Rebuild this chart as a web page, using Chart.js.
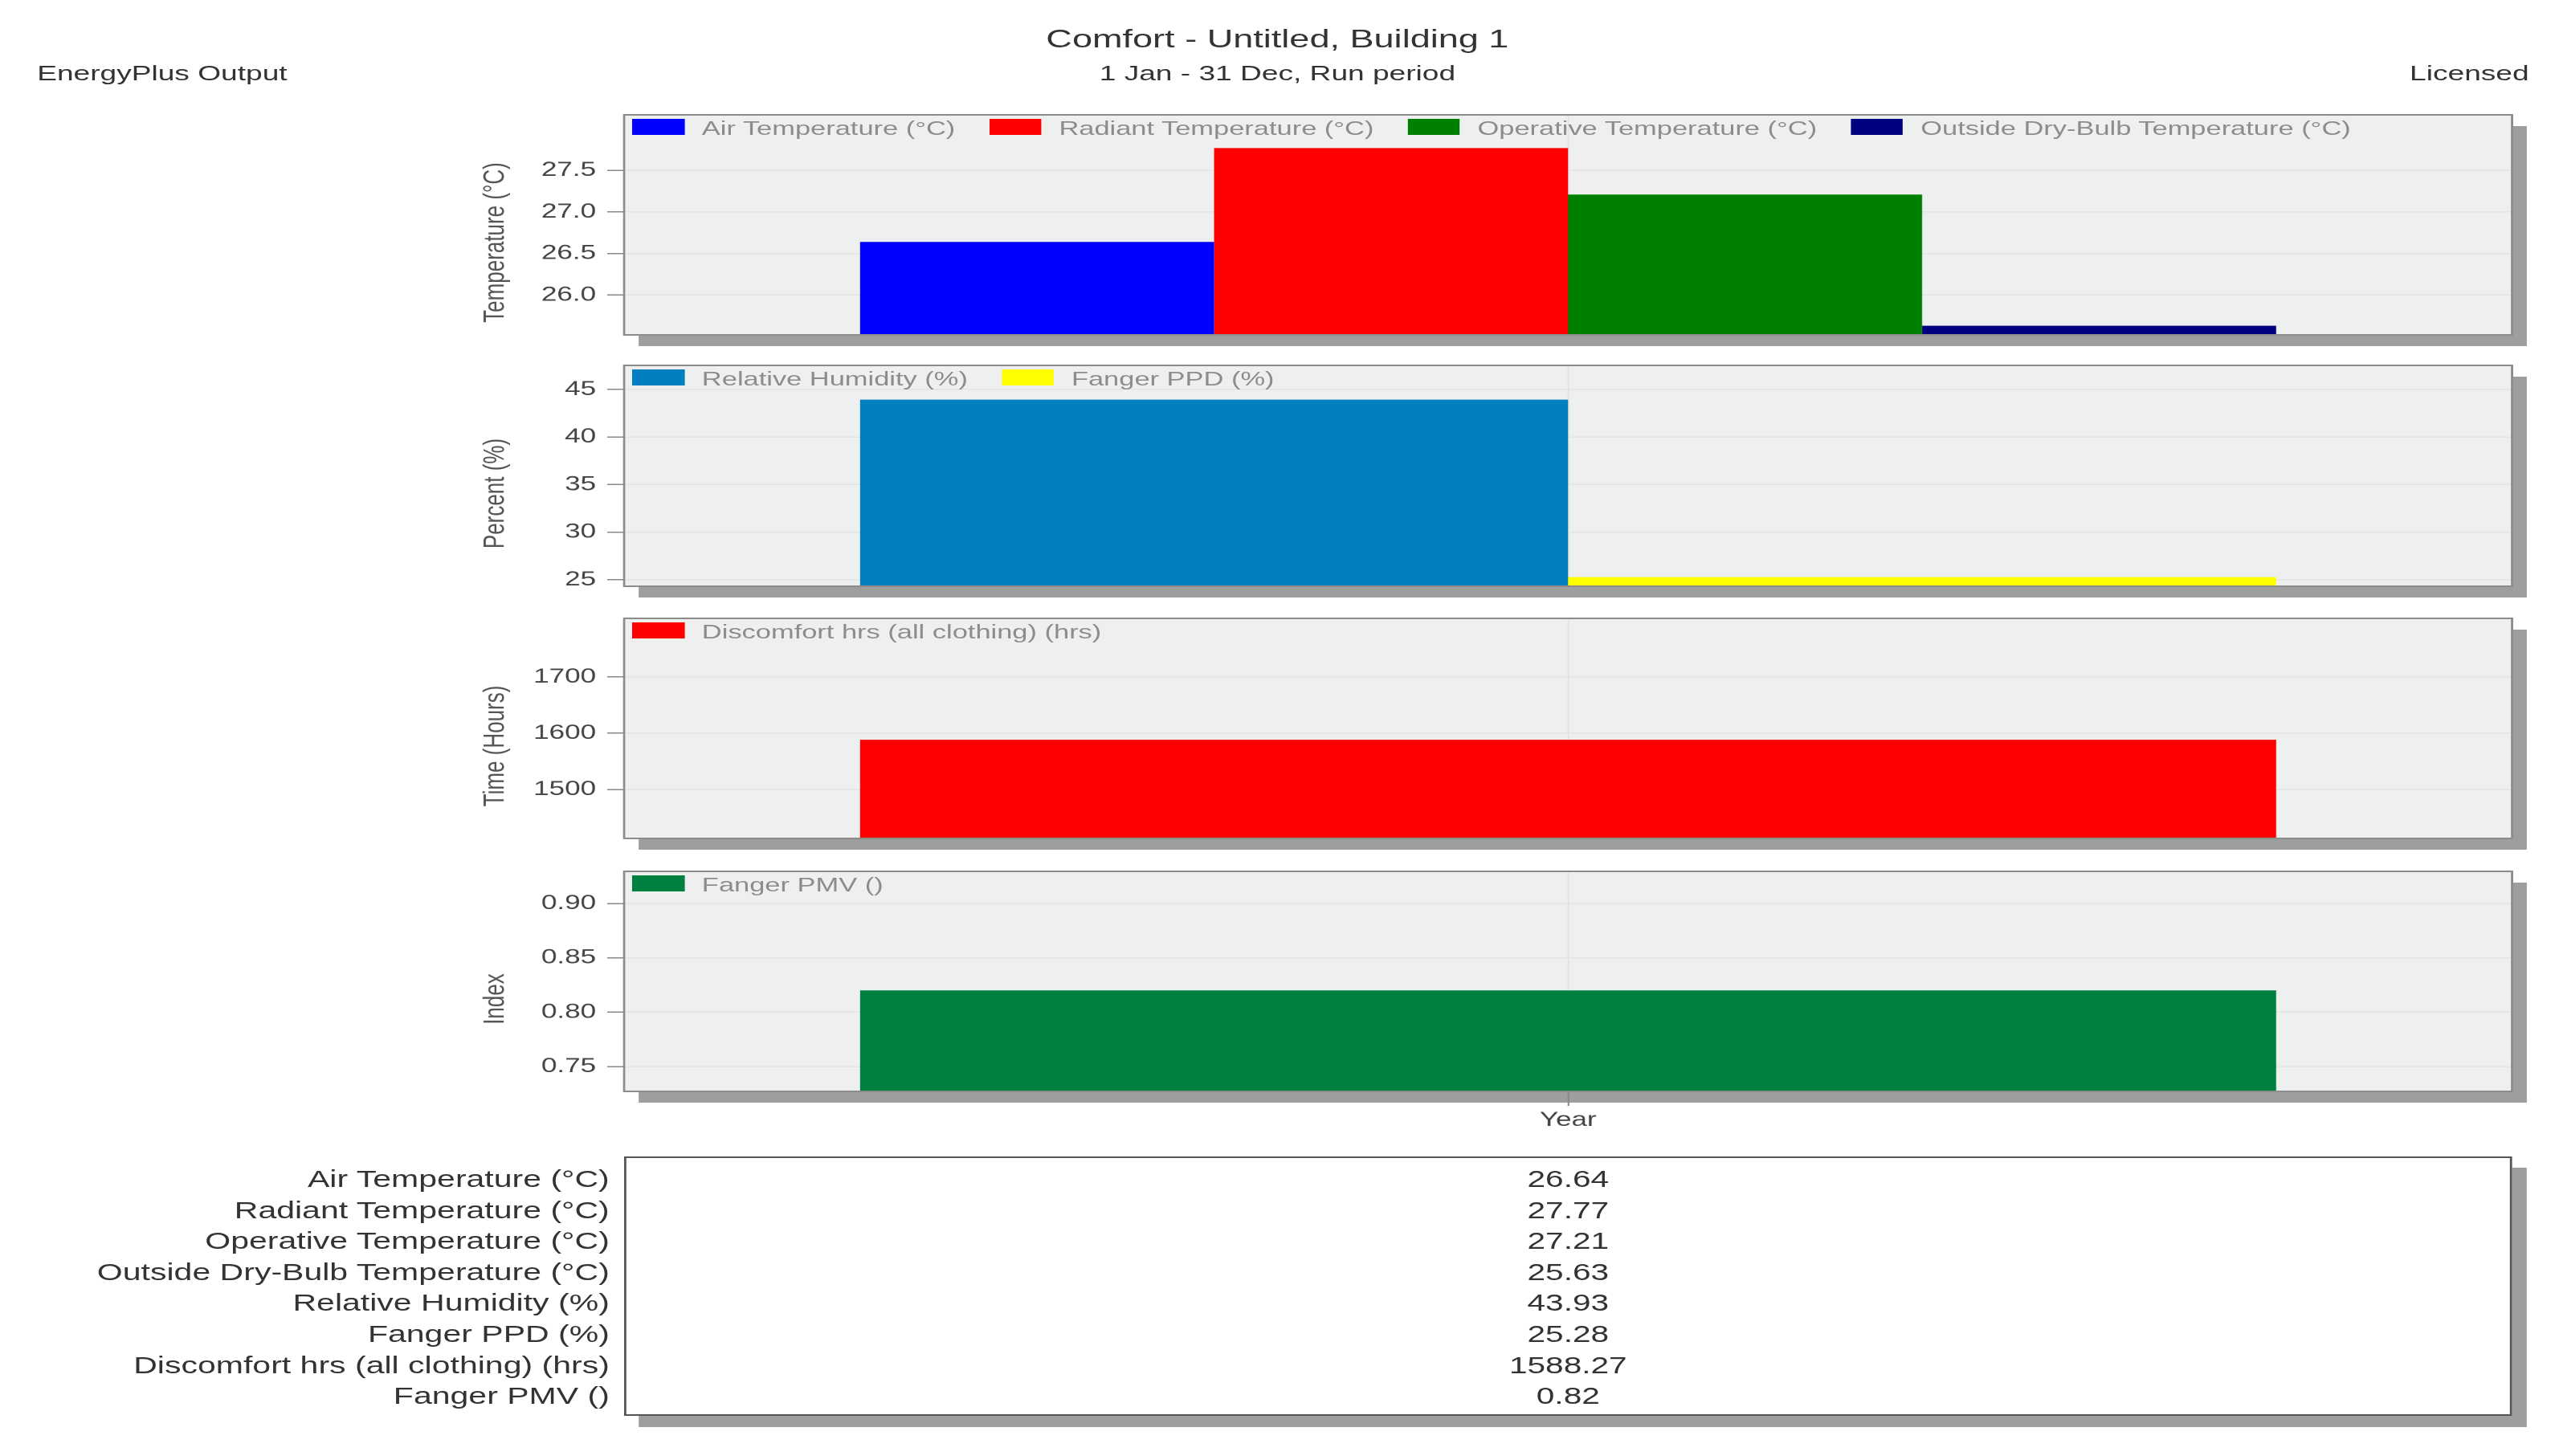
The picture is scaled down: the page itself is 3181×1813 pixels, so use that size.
<!DOCTYPE html>
<html>
<head>
<meta charset="utf-8">
<title>Comfort</title>
<script src="https://cdn.jsdelivr.net/npm/chart.js@4"></script>
<style>
  html, body { margin: 0; padding: 0; background: #fff; overflow: hidden; }
  /* the whole sheet is wider than tall compared to normal type, so it gets stretched sideways */
  #page {
    position: absolute; left: 0; top: 0; width: 2272px; height: 1813px;
    transform: scaleX(1.4); transform-origin: 0 0;
    font-family: "Liberation Sans", Arial, sans-serif; color: #333;
  }
  #page canvas { position: absolute; left: 420px; }
  .head { position: absolute; white-space: nowrap; line-height: 1; }
  .legend { position: absolute; left: 562px; display: flex; align-items: center; height: 20px;
            font-size: 24.6px; color: #8c8c8c; white-space: nowrap; }
  .legend i { display: block; width: 46.5px; height: 20px; margin-right: 15.7px; }
  .legend span { margin-right: 30px; position: relative; top: 2px; }
  #tableShadow { position: absolute; left: 568px; top: 1454px; width: 1679px; height: 323px; background: #9e9e9e; }
  #tableBox { position: absolute; left: 555px; top: 1440px; width: 1679px; height: 323px; box-sizing: border-box;
              background: #fff; border: 2.5px solid #555; }
  .row { position: absolute; height: 38px; line-height: 38px; white-space: nowrap; }
  .row.name { right: calc(2272px - 542px); text-align: right; font-size: 29.3px; }
  .row.val { left: 555px; width: 1679px; text-align: center; font-size: 29px; }
</style>
</head>
<body>
<div id="page">
  <div class="head" style="left:0;width:2272px;text-align:center;top:32px;font-size:32.2px">Comfort - Untitled, Building 1</div>
  <div class="head" style="left:0;width:2272px;text-align:center;top:78px;font-size:26.5px">1 Jan - 31 Dec, Run period</div>
  <div class="head" style="left:33px;top:78px;font-size:26.5px">EnergyPlus Output</div>
  <div class="head" style="right:23px;top:78px;font-size:26.5px">Licensed</div>
  <div id="tableShadow"></div>
  <div id="tableBox"></div>
</div>

<script>
const categories = ['Year'];

const tempLabels = ['Air Temperature (°C)', 'Radiant Temperature (°C)', 'Operative Temperature (°C)', 'Outside Dry-Bulb Temperature (°C)'];
const tempValues = [26.64, 27.77, 27.21, 25.63];
const tempColors = ['#0000ff', '#ff0000', '#008000', '#000080'];
const tempTicks = [26, 26.5, 27, 27.5];

const percentLabels = ['Relative Humidity (%)', 'Fanger PPD (%)'];
const percentValues = [43.93, 25.28];
const percentColors = ['#0080c0', '#ffff00'];
const percentTicks = [25, 30, 35, 40, 45];

const hoursLabels = ['Discomfort hrs (all clothing) (hrs)'];
const hoursValues = [1588.27];
const hoursColors = ['#ff0000'];
const hoursTicks = [1500, 1600, 1700];

const indexLabels = ['Fanger PMV ()'];
const indexValues = [0.82];
const indexColors = ['#008040'];
const indexTicks = [0.75, 0.80, 0.85, 0.90];

const page = document.getElementById('page');
const FONT = '"Liberation Sans", Arial, sans-serif';

// background, drop shadow, frame and the off-centre axis title of every panel
const panelFrame = {
  id: 'panelFrame',
  beforeDraw(chart) {
    const { ctx, chartArea: a } = chart;
    ctx.save();
    ctx.fillStyle = '#9e9e9e';
    ctx.fillRect(a.left + 13, a.top + 14, a.width, a.height);
    ctx.fillStyle = '#eef0ef';
    ctx.fillRect(a.left, a.top, a.width, a.height);
    ctx.restore();
  },
  afterDraw(chart) {
    const { ctx, chartArea: a } = chart;
    ctx.save();
    ctx.strokeStyle = '#8c8c8c';
    ctx.lineWidth = 2;
    ctx.strokeRect(a.left, a.top, a.width, a.height);
    ctx.translate(21, (a.top + a.bottom) / 2 + 22);
    ctx.rotate(-Math.PI / 2);
    ctx.font = '26px ' + FONT;
    ctx.fillStyle = '#555';
    ctx.textAlign = 'center';
    ctx.textBaseline = 'middle';
    ctx.fillText(chart.options.plugins.panelFrame.title, 0, 0);
    ctx.restore();
  }
};

function addPanel(cfg) {
  const canvas = document.createElement('canvas');
  canvas.width = 1852;
  canvas.height = cfg.height + 100;
  canvas.style.top = (cfg.top - 30) + 'px';
  page.appendChild(canvas);

  const legend = document.createElement('div');
  legend.className = 'legend';
  legend.style.top = (cfg.top + 5) + 'px';
  cfg.labels.forEach((label, i) => {
    legend.innerHTML += `<i style="background:${cfg.colors[i]}"></i><span>${label}</span>`;
  });
  page.appendChild(legend);

  return new Chart(canvas, {
    type: 'bar',
    data: {
      labels: categories,
      datasets: cfg.labels.map((label, i) => ({
        label,
        data: [cfg.values[i]],
        backgroundColor: cfg.colors[i],
        barPercentage: 1,
        categoryPercentage: 0.75
      }))
    },
    options: {
      responsive: false,
      animation: false,
      devicePixelRatio: 2,
      layout: { autoPadding: false, padding: { top: 30, right: 38, bottom: 0, left: 0 } },
      plugins: {
        legend: { display: false },
        tooltip: { enabled: false },
        panelFrame: { title: cfg.title }
      },
      scales: {
        x: {
          afterFit(scale) { scale.height = 70; },
          border: { display: false },
          grid: { offset: false, color: '#e3e4e3', lineWidth: 1.5, tickLength: 18, tickColor: '#888', drawTicks: cfg.showYear },
          ticks: { display: cfg.showYear, padding: 3, color: '#444', font: { family: FONT, size: 25 } }
        },
        y: {
          min: cfg.min,
          max: cfg.max,
          afterFit(scale) { scale.width = 135; },
          afterBuildTicks(scale) { scale.ticks = cfg.ticks.map(value => ({ value })); },
          border: { display: false },
          grid: { color: '#e3e4e3', lineWidth: 1.5, tickLength: 15, tickColor: '#888' },
          ticks: {
            padding: 10,
            color: '#444',
            font: { family: FONT, size: 25 },
            callback: v => v.toFixed(cfg.decimals)
          }
        }
      }
    },
    plugins: [panelFrame]
  });
}

addPanel({ top: 143, height: 274, title: 'Temperature (°C)', labels: tempLabels, values: tempValues, colors: tempColors,
           ticks: tempTicks, decimals: 1, min: 25.52, max: 28.17, showYear: false });
addPanel({ top: 455, height: 275, title: 'Percent (%)', labels: percentLabels, values: percentValues, colors: percentColors,
           ticks: percentTicks, decimals: 0, min: 24.32, max: 47.53, showYear: false });
addPanel({ top: 770, height: 274, title: 'Time (Hours)', labels: hoursLabels, values: hoursValues, colors: hoursColors,
           ticks: hoursTicks, decimals: 0, min: 1413, max: 1804, showYear: false });
addPanel({ top: 1085, height: 274, title: 'Index', labels: indexLabels, values: indexValues, colors: indexColors,
           ticks: indexTicks, decimals: 2, min: 0.7271, max: 0.9296, showYear: true });

// summary table below the panels
const rowNames = [...tempLabels, ...percentLabels, ...hoursLabels, ...indexLabels];
const rowValues = [...tempValues, ...percentValues, ...hoursValues, ...indexValues];
rowNames.forEach((name, i) => {
  const top = 1449 + i * 38.6;
  page.insertAdjacentHTML('beforeend', `<div class="row name" style="top:${top}px">${name}</div>`);
  page.insertAdjacentHTML('beforeend', `<div class="row val" style="top:${top}px">${rowValues[i].toFixed(2)}</div>`);
});
</script>
</body>
</html>
